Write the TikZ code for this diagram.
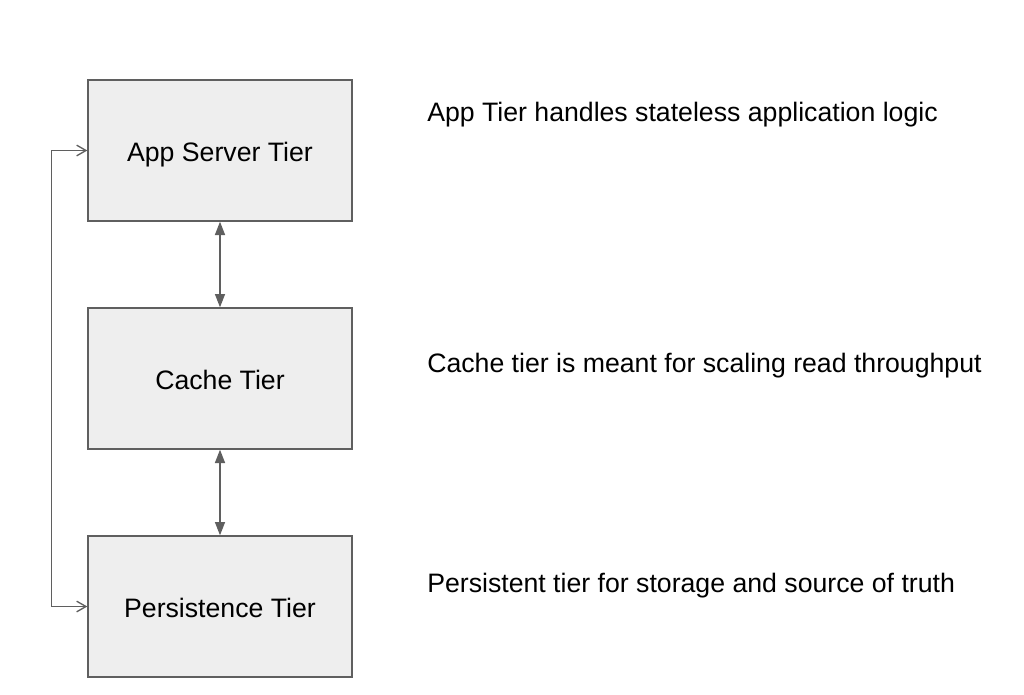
\documentclass[tikz,border=0pt]{standalone}
\usepackage{fontspec}
\setmainfont{Liberation Sans}
\usetikzlibrary{positioning,arrows.meta}
\definecolor{tierfill}{HTML}{EEEEEE}
\definecolor{tierline}{HTML}{5F5F5F}
\begin{document}
\begin{tikzpicture}[x=0.75pt, y=-0.75pt, tier/.style={draw=tierline, fill=tierfill, line width=1pt, minimum width=198pt, minimum height=105.75pt, inner sep=0pt, text height=16pt, text depth=0pt, font=\fontsize{20}{23}\selectfont}, note/.style={anchor=west, inner sep=0pt, font=\fontsize{20}{23}\selectfont}, link/.style={draw=tierline, line width=1.1pt, {Triangle[length=10pt,width=7.5pt]}-{Triangle[length=10pt,width=7.5pt]}}, loop/.style={draw=tierline, line width=1pt, {Straight Barb[length=7pt,width=8pt]}-{Straight Barb[length=7pt,width=8pt]}}]
\useasboundingbox (0,0) rectangle (1024,694);
\node[tier] (app) at (220,150.5) {App Server Tier};
\node[tier] (cache) at (220,378.5) {Cache Tier};
\node[tier] (persist) at (220,606.5) {Persistence Tier};
\draw[link] (app) -- (cache);
\draw[link] (cache) -- (persist);
\draw[loop] (app.west) -- ++(-36,0) |- (persist.west);
\node[note] (appnote) at (427,115) {App Tier handles stateless application logic};
\node[note] (cachenote) at (427,366) {Cache tier is meant for scaling read throughput};
\node[note] (persistnote) at (427,586) {Persistent tier for storage and source of truth};
\end{tikzpicture}
\end{document}
